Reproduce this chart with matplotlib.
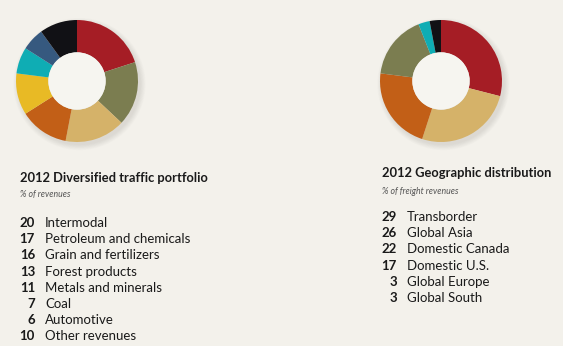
import matplotlib
matplotlib.use("Agg")
import matplotlib.pyplot as plt
from matplotlib.patches import Circle

W, H = 563, 346
BG = '#f3f1eb'

# left chart data
traffic_labels = ['Intermodal', 'Petroleum and chemicals', 'Grain and fertilizers',
                  'Forest products', 'Metals and minerals', 'Coal', 'Automotive',
                  'Other revenues']
traffic_values = [20, 17, 16, 13, 11, 7, 6, 10]
traffic_colors = ['#a51d25', '#7b7d50', '#d5b269', '#c25f17', '#e8ba25',
                  '#0fadb4', '#36597f', '#111115']

# right chart data
geo_labels = ['Transborder', 'Global Asia', 'Domestic Canada', 'Domestic U.S.',
              'Global Europe', 'Global South']
geo_values = [29, 26, 22, 17, 3, 3]
geo_colors = ['#a51d25', '#d5b269', '#c25f17', '#7b7d50', '#0fadb4', '#111115']

plt.rcParams['font.family'] = ['Lato', 'DejaVu Sans']

fig = plt.figure(figsize=(W / 100, H / 100), dpi=100, facecolor=BG)


def px(x, y):
    return x / W, 1 - y / H


def donut(cx, cy, r, values, colors):
    ax = fig.add_axes([(cx - r) / W, 1 - (cy + r) / H, 2 * r / W, 2 * r / H])
    ax.set_aspect('equal')
    ax.axis('off')
    # soft shadow
    for k in range(8):
        ax.add_patch(Circle((0.04, -0.05), 1.0 + 0.012 * k, color='#8a8470',
                            alpha=0.025, zorder=0, lw=0))
    ax.pie(values, colors=colors, startangle=90, counterclock=False, radius=1.0,
           wedgeprops=dict(width=0.53, linewidth=0))
    ax.set_xlim(-1.15, 1.15)
    ax.set_ylim(-1.15, 1.15)
    ax.add_patch(Circle((0, 0), 0.47, color='#f6f5f0', zorder=3, lw=0))


donut(77, 81, 61 * 1.15, traffic_values, traffic_colors)
donut(441, 81, 61 * 1.15, geo_values, geo_colors)


def legend(x0, ytitle, ysub, yitems, xnum, xlab, title, sub, labels, values):
    fig.text(*px(x0, ytitle), title, fontsize=9.3, fontweight='bold',
             color='#1a1a1a', va='center', ha='left')
    fig.text(*px(x0, ysub), sub, fontsize=6.3, style='italic',
             color='#555555', va='center', ha='left')
    for i, (lab, v) in enumerate(zip(labels, values)):
        y = yitems + i * 16.2
        fig.text(*px(xnum, y), str(v), fontsize=9.5, fontweight='bold',
                 color='#1a1a1a', va='center', ha='right')
        fig.text(*px(xlab, y), lab, fontsize=9.5, color='#1a1a1a',
                 va='center', ha='left')


legend(20, 178, 195, 223, 35, 45, '2012 Diversified traffic portfolio',
       '% of revenues', traffic_labels, traffic_values)
legend(382, 173, 191, 217, 397, 407, '2012 Geographic distribution',
       '% of freight revenues', geo_labels, geo_values)

fig.savefig('out.png', dpi=100, facecolor=BG)
